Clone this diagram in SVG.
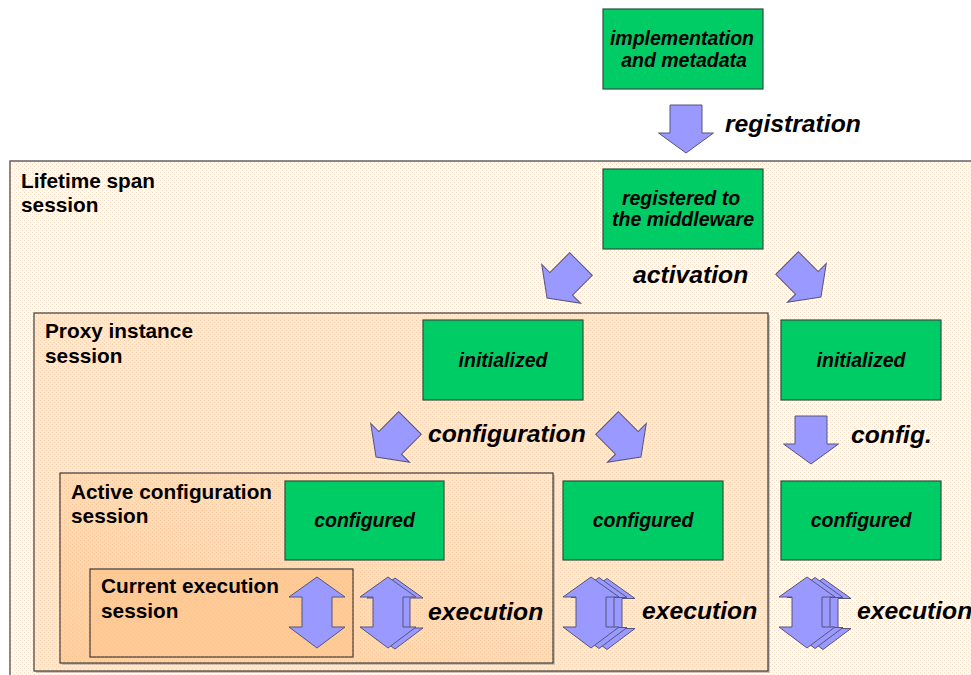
<svg xmlns="http://www.w3.org/2000/svg" width="971" height="675" viewBox="0 0 971 675">
<style>
.region{stroke:#3a3a3a;stroke-width:1.2}
.shadow{fill:#9a9a9a;opacity:0.55}
.box{fill:#00cc66;stroke:#2f4f3f;stroke-width:1.2}
.rlabel{font-family:"Liberation Sans",Arial,sans-serif;font-weight:bold;font-size:20.8px;fill:#000}
.btext{font-family:"Liberation Sans",Arial,sans-serif;font-weight:bold;font-style:italic;font-size:19.5px;fill:#000;text-anchor:middle}
.alabel{font-family:"Liberation Sans",Arial,sans-serif;font-weight:bold;font-style:italic;font-size:24.7px;fill:#000}
.arr{fill:#9999ff;stroke:#55557a;stroke-width:1}
</style>
<defs>
<pattern id="dots" width="4" height="4" patternUnits="userSpaceOnUse">
<rect x="0" y="0" width="1" height="1" fill="#f7b46e" opacity="0.4"/>
<rect x="2" y="2" width="1" height="1" fill="#f7b46e" opacity="0.4"/>
</pattern>
<linearGradient id="acg" x1="0" y1="1" x2="1" y2="0">
<stop offset="0" stop-color="#fccfa2"/>
<stop offset="1" stop-color="#fde8d4"/>
</linearGradient>
<path id="down" d="M-16,-24 L16,-24 L16,4 L27.5,4 L0,24 L-27.5,4 L-16,4 Z"/>
<path id="dbl" d="M0,-35.5 L28,-15.5 L15,-15.5 L15,14.5 L28,14.5 L0,35.5 L-28,14.5 L-15,14.5 L-15,-15.5 L-28,-15.5 Z"/>
</defs>

<rect width="971" height="675" fill="#ffffff"/>

<g id="lifetime">
<rect x="12" y="163" width="980" height="540" class="shadow"/>
<rect x="10" y="161" width="980" height="540" fill="#fffaf5" class="region"/>
<rect x="10.6" y="161.6" width="980" height="540" fill="url(#dots)"/>
<text class="rlabel" x="21" y="188">Lifetime span</text>
<text class="rlabel" x="21" y="212">session</text>
</g>

<g id="proxy">
<rect x="36" y="315" width="734" height="358" class="shadow"/>
<rect x="34" y="313" width="734" height="358" fill="#fde8d3" class="region"/>
<rect x="34.6" y="313.6" width="733" height="357" fill="url(#dots)"/>
<text class="rlabel" x="45" y="338">Proxy instance</text>
<text class="rlabel" x="45" y="363">session</text>
</g>

<g id="activeconf">
<rect x="62" y="475" width="493" height="190" class="shadow"/>
<rect x="60" y="473" width="493" height="190" fill="url(#acg)" class="region"/>
<rect x="60.6" y="473.6" width="492" height="189" fill="url(#dots)"/>
<text class="rlabel" x="71" y="499">Active configuration</text>
<text class="rlabel" x="71" y="523">session</text>
</g>

<g id="currentexec">
<rect x="90" y="569" width="263" height="88" fill="#fccb9b" class="region"/>
<rect x="90.6" y="569.6" width="262" height="87" fill="url(#dots)"/>
<text class="rlabel" x="101" y="593">Current execution</text>
<text class="rlabel" x="101" y="618">session</text>
</g>

<g id="impl">
<rect x="603" y="9" width="160" height="80" class="box"/>
<text class="btext" x="682" y="45">implementation</text>
<text class="btext" x="684" y="67">and metadata</text>
</g>

<g id="registered">
<rect x="603" y="169" width="160" height="80" class="box"/>
<text class="btext" x="681" y="205">registered to</text>
<text class="btext" x="683" y="226">the middleware</text>
</g>

<g id="init1">
<rect x="423" y="320" width="160" height="80" class="box"/>
<text class="btext" x="503" y="367">initialized</text>
</g>

<g id="init2">
<rect x="781" y="320" width="160" height="80" class="box"/>
<text class="btext" x="861" y="367">initialized</text>
</g>

<g id="conf1">
<rect x="285" y="481" width="159" height="79" class="box"/>
<text class="btext" x="364.5" y="527">configured</text>
</g>

<g id="conf2">
<rect x="563" y="481" width="160" height="79" class="box"/>
<text class="btext" x="643" y="527">configured</text>
</g>

<g id="conf3">
<rect x="781" y="481" width="160" height="79" class="box"/>
<text class="btext" x="861" y="527">configured</text>
</g>

<g id="connectors">
<use href="#down" class="arr" transform="translate(686,129)"/>
<text class="alabel" x="725" y="132">registration</text>

<use href="#down" class="arr" transform="translate(564,281) rotate(45)"/>
<use href="#down" class="arr" transform="translate(804,280) rotate(-45)"/>
<text class="alabel" x="633" y="283">activation</text>

<use href="#down" class="arr" transform="translate(393,440) rotate(45)"/>
<use href="#down" class="arr" transform="translate(624,440) rotate(-45)"/>
<text class="alabel" x="428" y="442">configuration</text>

<use href="#down" class="arr" transform="translate(811,440)"/>
<text class="alabel" x="851" y="443">config.</text>

<use href="#dbl" class="arr" transform="translate(317,612.5)"/>

<use href="#dbl" class="arr" transform="translate(395,613.5)"/>
<use href="#dbl" class="arr" transform="translate(388,612.5)"/>
<text class="alabel" x="428" y="620">execution</text>

<use href="#dbl" class="arr" transform="translate(607,614)"/>
<use href="#dbl" class="arr" transform="translate(599,613)"/>
<use href="#dbl" class="arr" transform="translate(591,612.5)"/>
<text class="alabel" x="642" y="619">execution</text>

<use href="#dbl" class="arr" transform="translate(823,614)"/>
<use href="#dbl" class="arr" transform="translate(815,613)"/>
<use href="#dbl" class="arr" transform="translate(807,612.5)"/>
<text class="alabel" x="857" y="619">execution</text>
</g>
</svg>
